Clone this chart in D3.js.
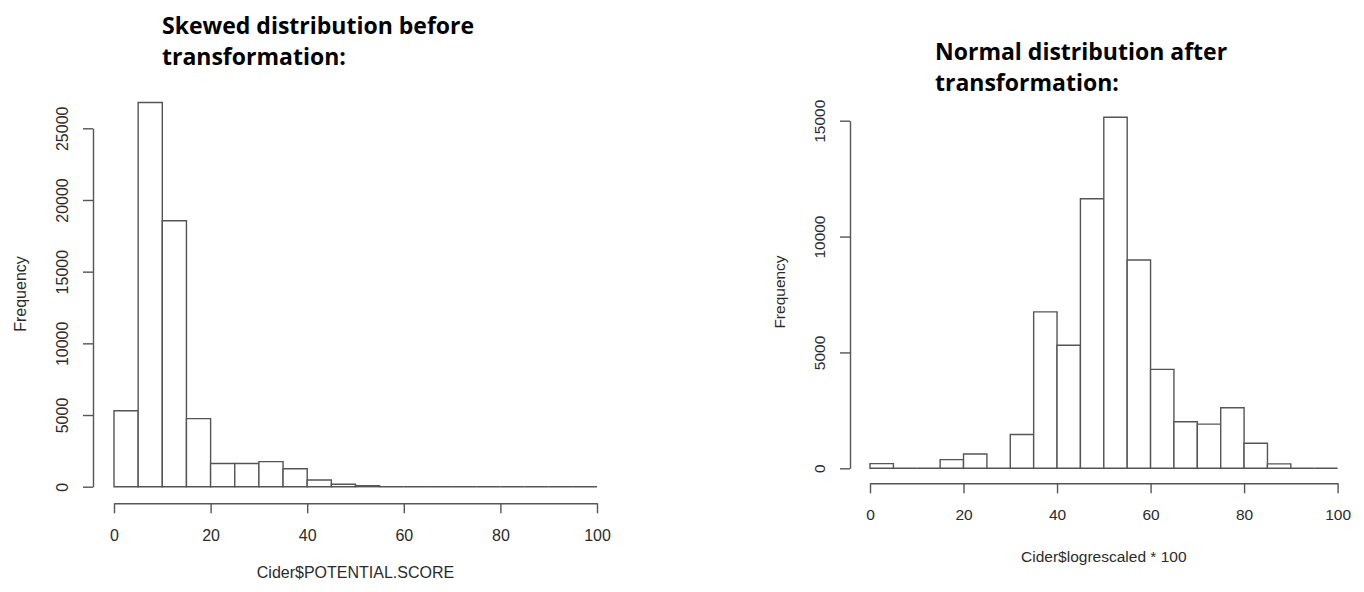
<!DOCTYPE html>
<html>
<head>
<meta charset="utf-8">
<script src="https://d3js.org/d3.v7.min.js"></script>
<style>
  body { margin: 0; background: #fff; }
  .tick text, .axis-title { font-family: "Liberation Sans", Arial, sans-serif; fill: #2b2b2b; }
  .chart-title { font-family: "Open Sans", sans-serif; font-weight: bold; fill: #000; }
</style>
</head>
<body>
<svg width="1364" height="592"></svg>
<script>
// histogram bins (left edge of each 5-wide bin)
var binStarts = [0, 5, 10, 15, 20, 25, 30, 35, 40, 45, 50, 55, 60, 65, 70, 75, 80, 85, 90, 95];
var binWidth = 5;

// counts
var skewedCounts = [5300, 26800, 18550, 4750, 1620, 1620, 1750, 1250, 470, 170, 70, 0, 0, 0, 0, 0, 0, 0, 0, 0];
var normalCounts = [200, 0, 0, 375, 620, 0, 1460, 6750, 5310, 11630, 15150, 8990, 4270, 2010, 1905, 2610, 1080, 190, 0, 0];

var xTicks = [0, 20, 40, 60, 80, 100];
var skewedYTicks = [0, 5000, 10000, 15000, 20000, 25000];
var normalYTicks = [0, 5000, 10000, 15000];

var svg = d3.select("svg");

function drawHist(opts) {
  var x = d3.scaleLinear().domain([0, 100]).range([opts.x0, opts.x1]);
  var y = d3.scaleLinear().domain([0, opts.yMax]).range([opts.base, opts.yTop]);
  var g = svg.append("g");

  // bars as closed paths so empty bins still show as a line on the base
  g.selectAll("path.bar")
    .data(opts.counts)
    .enter().append("path")
    .attr("class", "bar")
    .attr("d", function(d, i) {
      var a = x(binStarts[i]), b = x(binStarts[i] + binWidth);
      return "M" + a + "," + y(0) + "V" + y(d) + "H" + b + "V" + y(0) + "Z";
    })
    .attr("fill", "#fff")
    .attr("stroke", "#555")
    .attr("stroke-width", 1.4);

  // y axis
  var yAxis = d3.axisLeft(y).tickValues(opts.yTicks).tickFormat(d3.format("d"))
    .tickSize(10).tickSizeOuter(0);
  var ya = g.append("g")
    .attr("transform", "translate(" + opts.axisX + ",0)")
    .call(yAxis);
  ya.selectAll("text")
    .attr("transform", "rotate(-90)")
    .attr("x", 0)
    .attr("y", -opts.yLabOff)
    .attr("dy", "0.35em")
    .style("text-anchor", "middle")
    .style("font-size", opts.fs + "px");

  // x axis
  var xAxis = d3.axisBottom(x).tickValues(xTicks).tickFormat(d3.format("d"))
    .tickSize(10).tickSizeOuter(0);
  var xa = g.append("g")
    .attr("transform", "translate(0," + opts.xAxisY + ")")
    .call(xAxis);
  xa.selectAll("text")
    .attr("y", opts.xLabOff)
    .attr("dy", "0.35em")
    .style("font-size", opts.fs + "px");

  g.selectAll(".domain, .tick line")
    .attr("stroke", "#555")
    .attr("stroke-width", 1.4);

  g.append("text")
    .attr("class", "axis-title")
    .attr("x", (opts.x0 + opts.x1) / 2)
    .attr("y", opts.xTitleY)
    .attr("dy", "0.35em")
    .attr("text-anchor", "middle")
    .style("font-size", opts.fs + "px")
    .text(opts.xTitle);

  g.append("text")
    .attr("class", "axis-title")
    .attr("transform", "translate(" + opts.yTitleX + "," + opts.yTitleY + ") rotate(-90)")
    .attr("dy", "0.35em")
    .attr("text-anchor", "middle")
    .style("font-size", opts.fs + "px")
    .text("Frequency");

  var t = g.append("text")
    .attr("class", "chart-title")
    .style("font-size", "23px");
  opts.title.forEach(function(line, i) {
    t.append("tspan")
      .attr("x", opts.titleX)
      .attr("y", opts.titleY + i * 31)
      .text(line);
  });
}

drawHist({
  counts: skewedCounts, yMax: 25000, yTicks: skewedYTicks,
  x0: 114, x1: 597, base: 486.7, yTop: 128.3,
  axisX: 93, yLabOff: 31, xAxisY: 503.3, xLabOff: 32,
  xTitle: "Cider$POTENTIAL.SCORE", xTitleY: 572,
  yTitleX: 20, yTitleY: 294, fs: 16,
  title: ["Skewed distribution before", "transformation:"], titleX: 162, titleY: 34
});

drawHist({
  counts: normalCounts, yMax: 15000, yTicks: normalYTicks,
  x0: 870, x1: 1337.6, base: 468.3, yTop: 120.7,
  axisX: 850, yLabOff: 30, xAxisY: 483.3, xLabOff: 31,
  xTitle: "Cider$logrescaled * 100", xTitleY: 557,
  yTitleX: 780, yTitleY: 292, fs: 15.5,
  title: ["Normal distribution after", "transformation:"], titleX: 935, titleY: 60
});
</script>
</body>
</html>
